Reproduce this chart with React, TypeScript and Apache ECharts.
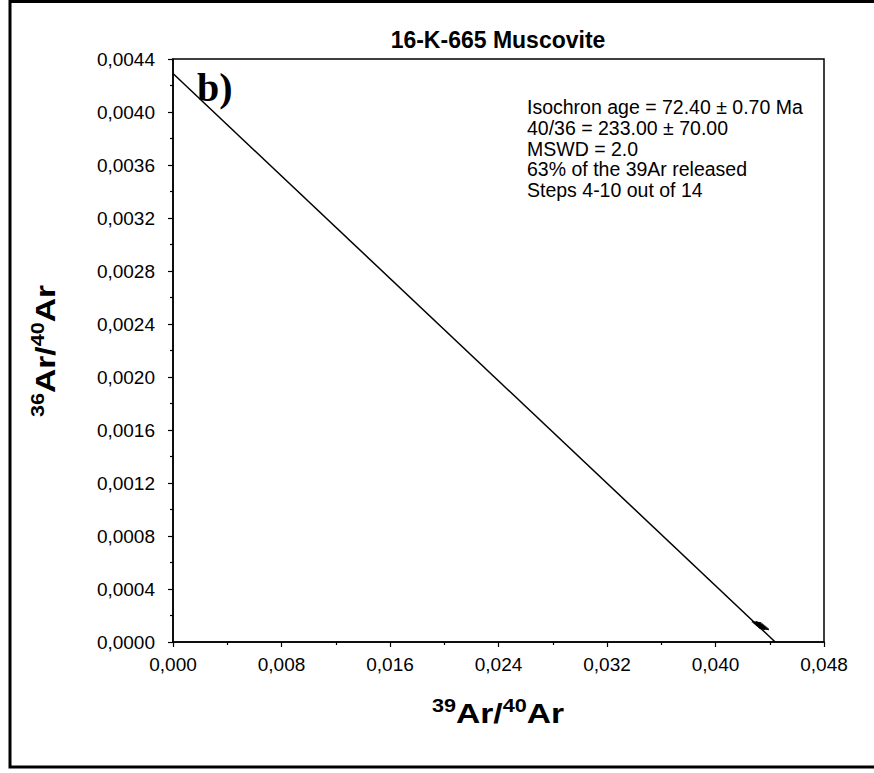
import React, { useEffect, useRef } from 'react';
import * as echarts from 'echarts';

const chartTitle = '16-K-665 Muscovite';
const panelLabel = 'b)';
const infoLines = [
  'Isochron age = 72.40 ± 0.70 Ma',
  '40/36 = 233.00 ± 70.00',
  'MSWD = 2.0',
  '63% of the 39Ar released',
  'Steps 4-10 out of 14',
];

// isochron regression line end points (39Ar/40Ar, 36Ar/40Ar)
const lineX = [0, 0.0444];
const lineY = [0.00429, 0];

// steps 4-10 (39Ar/40Ar, 36Ar/40Ar) with errors
const stepX = [0.04303, 0.04314, 0.04323, 0.04332, 0.04341, 0.0435, 0.04359];
const stepY = [0.000148, 0.000139, 0.000131, 0.000123, 0.000116, 0.000108, 0.0001];
const stepXErr = [0.00035, 0.00035, 0.00035, 0.00035, 0.00035, 0.00035, 0.00035];
const stepYErr = [0.000009, 0.000009, 0.000009, 0.000009, 0.000009, 0.000009, 0.000009];

const xMin = 0, xMax = 0.048, xStep = 0.008;
const yMin = 0, yMax = 0.0044, yStep = 0.0004;

const FONT = '"Liberation Sans", Arial, sans-serif';

export default function App() {
  const ref = useRef<HTMLDivElement>(null);
  useEffect(() => {
    document.body.style.margin = '0';
    const chart = echarts.init(ref.current!, null, { renderer: 'svg' });
    const richTitle = {
      a: { fontSize: 28, fontWeight: 'bold', fontFamily: FONT, fill: '#000', lineHeight: 32 },
      s: { fontSize: 18, fontWeight: 'bold', fontFamily: FONT, fill: '#000', lineHeight: 18, verticalAlign: 'top' },
    };
    const axisTitleText = (top: string) => `{s|${top}}{a|Ar/}{s|40}{a|Ar}`;
    chart.setOption({
      animation: false,
      backgroundColor: '#fff',
      grid: {
        left: 173, right: 50, top: 59, bottom: 131,
        show: true, borderColor: '#000', borderWidth: 1.5, backgroundColor: 'transparent',
      },
      xAxis: {
        type: 'value', min: xMin, max: xMax, interval: xStep,
        axisLine: { show: true, lineStyle: { color: '#000', width: 1.5 } },
        axisTick: { show: true, length: 5, lineStyle: { color: '#000', width: 1.2 } },
        minorTick: { show: true, splitNumber: 2, length: 3, lineStyle: { color: '#000', width: 1.2 } },
        splitLine: { show: false },
        axisLabel: {
          margin: 13, color: '#000', fontSize: 19, fontFamily: FONT,
          formatter: (v: number) => v.toFixed(3).replace('.', ','),
        },
      },
      yAxis: {
        type: 'value', min: yMin, max: yMax, interval: yStep,
        axisLine: { show: true, lineStyle: { color: '#000', width: 1.5 } },
        axisTick: { show: true, length: 5, lineStyle: { color: '#000', width: 1.2 } },
        minorTick: { show: true, splitNumber: 2, length: 3, lineStyle: { color: '#000', width: 1.2 } },
        splitLine: { show: false },
        axisLabel: {
          margin: 18, color: '#000', fontSize: 19, fontFamily: FONT,
          formatter: (v: number) => v.toFixed(4).replace('.', ','),
        },
      },
      series: [
        {
          type: 'line',
          data: lineX.map((x, i) => [x, lineY[i]]),
          showSymbol: false,
          symbol: 'none',
          lineStyle: { color: '#000', width: 1.5 },
          silent: true,
        },
        {
          type: 'custom',
          data: stepX.map((x, i) => [x, stepY[i], stepXErr[i], stepYErr[i]]),
          renderItem: (params: any, api: any) => {
            const x = api.value(0), y = api.value(1), ex = api.value(2), ey = api.value(3);
            const l = api.coord([x - ex, y + ey * 0.5]);
            const r = api.coord([x + ex, y - ey * 0.5]);
            const b = api.coord([x, y - ey]);
            const t = api.coord([x, y + ey]);
            const st = { stroke: '#000', lineWidth: 1.6 };
            return {
              type: 'group',
              children: [
                { type: 'line', shape: { x1: l[0], y1: l[1], x2: r[0], y2: r[1] }, style: st },
                { type: 'line', shape: { x1: b[0], y1: b[1], x2: t[0], y2: t[1] }, style: st },
              ],
            };
          },
        },
      ],
      graphic: [
        {
          type: 'rect', silent: true,
          shape: { x: 10, y: 1.5, width: 900, height: 765.5 },
          style: { fill: 'none', stroke: '#000', lineWidth: 3 },
        },
        {
          type: 'text', x: 498, y: 40,
          style: { text: chartTitle, fontSize: 23, fontWeight: 'bold', fontFamily: FONT, fill: '#000', align: 'center', verticalAlign: 'middle' },
        },
        {
          type: 'text', x: 197, y: 107,
          style: { text: panelLabel, fontSize: 40, fontWeight: 'bold', fontFamily: '"Liberation Serif", "Times New Roman", serif', fill: '#000', align: 'left', verticalAlign: 'bottom' },
        },
        {
          type: 'text', x: 527, y: 97,
          style: { text: infoLines.join('\n'), fontSize: 19.5, lineHeight: 20.7, fontFamily: FONT, fill: '#000', align: 'left', verticalAlign: 'top' },
        },
        {
          type: 'text', x: 45, y: 351, rotation: Math.PI / 2, scaleX: 1.2,
          style: { text: axisTitleText('36'), rich: richTitle, align: 'center', verticalAlign: 'middle' },
        },
        {
          type: 'text', x: 498, y: 713, scaleX: 1.2,
          style: { text: axisTitleText('39'), rich: richTitle, align: 'center', verticalAlign: 'middle' },
        },
      ],
    });
    return () => chart.dispose();
  }, []);
  return <div ref={ref} style={{ position: 'fixed', left: 0, top: 0, width: 874, height: 773 }} />;
}
